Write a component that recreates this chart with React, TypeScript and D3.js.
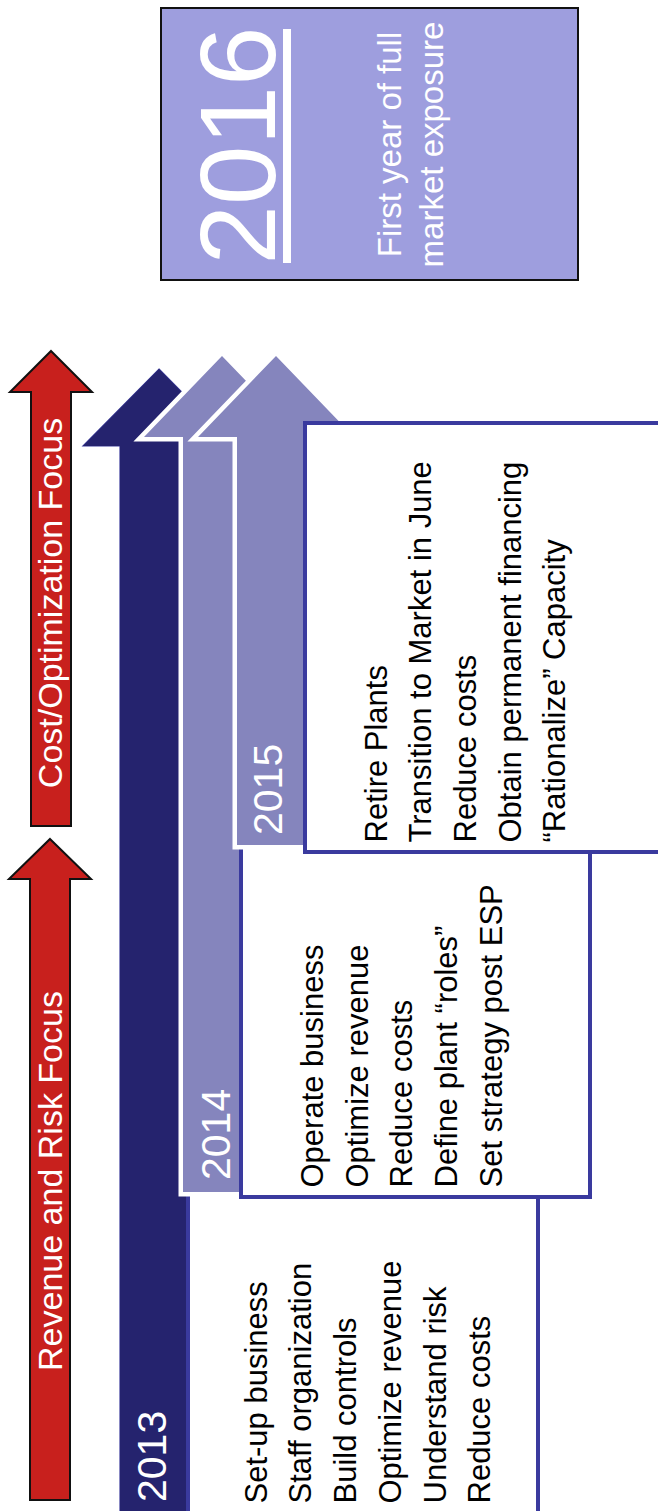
import React from "react";
import * as d3 from "d3";

// ---- content ----
const years = ["2013", "2014", "2015"];
const items2013 = [
  "Set-up business",
  "Staff organization",
  "Build controls",
  "Optimize revenue",
  "Understand risk",
  "Reduce costs",
];
const items2014 = [
  "Operate business",
  "Optimize revenue",
  "Reduce costs",
  "Define plant \u201croles\u201d",
  "Set strategy post ESP",
];
const items2015 = [
  "Retire Plants",
  "Transition to Market in June",
  "Reduce costs",
  "Obtain permanent financing",
  "\u201cRationalize\u201d Capacity",
];
const yearItems = [items2013, items2014, items2015];
const focusLabels = ["Revenue and Risk Focus", "Cost/Optimization Focus"];
const milestoneYear = "2016";
const milestoneText = ["First year of full", "market exposure"];

// ---- layout / style ----
const W = 658;
const H = 1511;
const FONT = "'Liberation Sans', Arial, Helvetica, sans-serif";
const LINE_STEP = 44.7;

const focusLayout = [
  { cx: 50, tip: 839, headH: 40, halfHead: 41, halfShaft: 20, bottom: 1500, textX: 61.7, textY: 1181 },
  { cx: 51, tip: 351, headH: 41, halfHead: 41, halfShaft: 20, bottom: 826, textX: 61.7, textY: 603 },
];

const yearLayout = [
  {
    cx: 159, tip: 369, headH: 77, halfHead: 76, halfShaft: 39, bottom: 1540,
    fill: "#25236E", stroke: "#3A3A9C", strokeW: 1.2,
    labelX: 166, labelY: 1502,
    box: { x0: 188, y0: 1170, x1: 538, y1: 1545 },
    itemX0: 266.7, itemY: 1503.5,
  },
  {
    cx: 222, tip: 356, headH: 81, halfHead: 78, halfShaft: 39, bottom: 1192,
    fill: "#8585BD", stroke: "#FFFFFF", strokeW: 9,
    labelX: 229.5, labelY: 1180,
    box: { x0: 241, y0: 830, x1: 590, y1: 1197 },
    itemX0: 323, itemY: 1187.5,
  },
  {
    cx: 276, tip: 356, headH: 81, halfHead: 78, halfShaft: 39, bottom: 845,
    fill: "#8585BD", stroke: "#FFFFFF", strokeW: 9,
    labelX: 282, labelY: 835,
    box: { x0: 305, y0: 423, x1: 690, y1: 852 },
    itemX0: 386.5, itemY: 842.5,
  },
];

const milestoneBox = { x0: 161, y0: 8, x1: 578, y1: 280 };

const lineGen = d3.line<[number, number]>();

function arrowPath(a: { cx: number; tip: number; headH: number; halfHead: number; halfShaft: number; bottom: number }) {
  const base = a.tip + a.headH;
  const pts: [number, number][] = [
    [a.cx, a.tip],
    [a.cx + a.halfHead, base],
    [a.cx + a.halfShaft, base],
    [a.cx + a.halfShaft, a.bottom],
    [a.cx - a.halfShaft, a.bottom],
    [a.cx - a.halfShaft, base],
    [a.cx - a.halfHead, base],
  ];
  return lineGen(pts) + "Z";
}

function VText({ x, y, size, fill, anchor = "start", children }: any) {
  return (
    <text
      transform={`translate(${x},${y}) rotate(-90)`}
      fontFamily={FONT}
      fontSize={size}
      fill={fill}
      textAnchor={anchor}
    >
      {children}
    </text>
  );
}

export default function App() {
  return (
    <svg
      width={W}
      height={H}
      viewBox={`0 0 ${W} ${H}`}
      style={{ position: "absolute", left: 0, top: 0, background: "#fff" }}
    >
      <rect x={0} y={0} width={W} height={H} fill="#fff" />

      {/* red focus arrows */}
      {focusLabels.map((lab, i) => {
        const f = focusLayout[i];
        return (
          <g key={lab}>
            <path d={arrowPath(f)} fill="#C8201D" stroke="#111" strokeWidth={2} strokeLinejoin="miter" />
            <VText x={f.textX} y={f.textY} size={34} fill="#fff" anchor="middle">
              {lab}
            </VText>
          </g>
        );
      })}

      {/* year arrows and boxes */}
      {years.map((yr, i) => {
        const L = yearLayout[i];
        const items = yearItems[i];
        const ls = d3.scaleLinear().domain([0, 1]).range([L.itemX0, L.itemX0 + LINE_STEP]);
        return (
          <g key={yr}>
            <path
              d={arrowPath(L)}
              fill={L.fill}
              stroke={L.stroke}
              strokeWidth={L.strokeW}
              strokeLinejoin="miter"
              style={{ paintOrder: "stroke" }}
            />
            <VText x={L.labelX} y={L.labelY} size={41} fill="#fff">
              {yr}
            </VText>
            <rect
              x={L.box.x0}
              y={L.box.y0}
              width={L.box.x1 - L.box.x0}
              height={L.box.y1 - L.box.y0}
              fill="#fff"
              stroke="#3A3A9E"
              strokeWidth={4}
            />
            {items.map((t, k) => (
              <VText key={k} x={ls(k)} y={L.itemY} size={31} fill="#000">
                {t}
              </VText>
            ))}
          </g>
        );
      })}

      {/* 2016 milestone box */}
      <rect
        x={milestoneBox.x0}
        y={milestoneBox.y0}
        width={milestoneBox.x1 - milestoneBox.x0}
        height={milestoneBox.y1 - milestoneBox.y0}
        fill="#9E9EDE"
        stroke="#111"
        strokeWidth={2}
      />
      <VText x={275} y={145.5} size={107} fill="#fff" anchor="middle">
        {milestoneYear}
      </VText>
      <rect x={283} y={29} width={8} height={234} fill="#fff" />
      {milestoneText.map((t, k) => (
        <VText key={k} x={401 + k * 42} y={144.5} size={33} fill="#fff" anchor="middle">
          {t}
        </VText>
      ))}
    </svg>
  );
}
